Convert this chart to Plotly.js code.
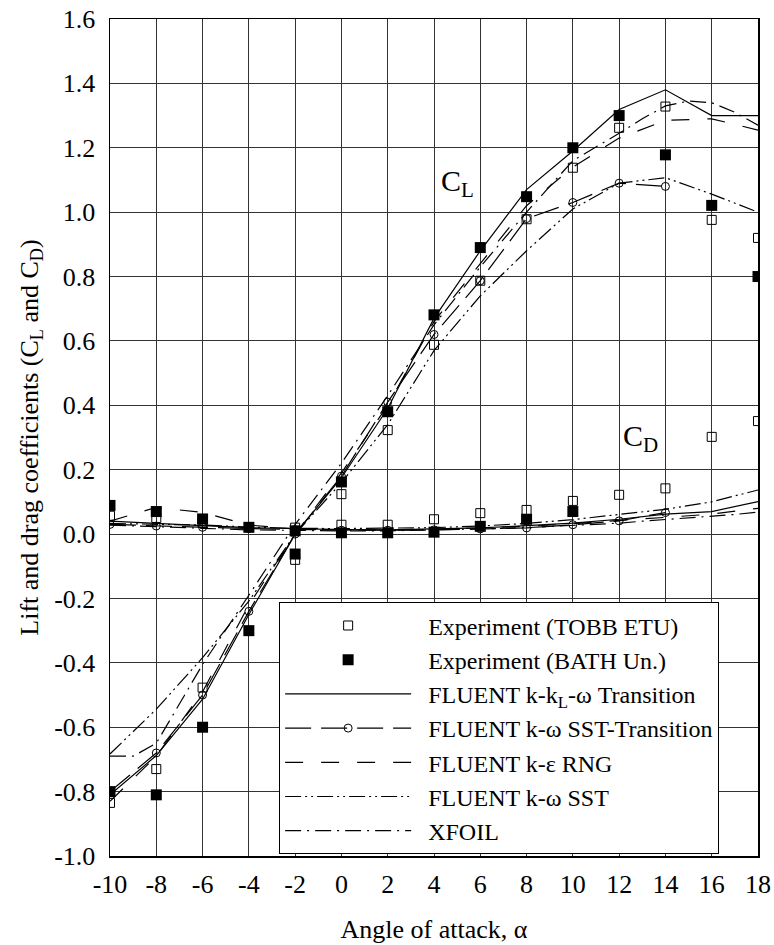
<!DOCTYPE html>
<html>
<head>
<meta charset="utf-8">
<script src="https://cdn.plot.ly/plotly-3.0.1.min.js"></script>
<style>html,body{margin:0;padding:0;background:#fff;}#chart{width:774px;height:945px;}</style>
</head>
<body>
<div id="chart"></div>
<script>
// ---- data ----
const alpha = [-10,-8,-6,-4,-2,0,2,4,6,8,10,12,14,16,18];

const tobbCL = [-0.835,-0.73,-0.477,null,-0.08,0.124,0.323,0.588,0.787,0.978,1.138,1.262,1.328,0.976,0.92];
const tobbCD = [0.057,0.05,0.035,null,0.02,0.029,0.029,0.046,0.065,0.075,0.103,0.122,0.142,0.302,0.351];

const bathCL = [-0.80,-0.81,-0.60,-0.30,-0.062,0.162,0.38,0.681,0.89,1.048,1.20,1.30,1.178,1.021,0.80];
const bathCD = [0.089,0.07,0.047,0.021,0.01,0.004,0.004,0.006,0.024,0.046,0.07,null,null,null,null];

const kklCL = [-0.81,-0.688,-0.513,-0.25,0.0,0.175,0.39,0.67,0.88,1.07,1.19,1.319,1.38,1.30,1.30];
const kklCD = [0.04,0.032,0.026,0.02,0.016,0.014,0.013,0.015,0.019,0.026,0.034,0.046,0.062,0.07,0.101];

const sstTCL = [-0.80,-0.68,-0.50,-0.24,0.0,0.18,0.41,0.62,0.787,0.98,1.03,1.09,1.08,null,null];
const sstTCD = [0.03,0.025,0.021,0.017,0.014,0.012,0.012,0.013,0.016,0.019,0.029,0.041,0.067,null,null];

const keCL = [-0.83,-0.69,-0.49,-0.22,0.0,0.19,0.40,0.66,0.84,1.02,1.14,1.23,1.285,1.29,1.255];
const keCD = [0.04,0.083,0.067,0.028,0.016,0.013,0.012,0.014,0.018,0.024,0.032,0.042,0.052,0.062,0.08];

const sstCL = [-0.683,-0.544,-0.384,-0.208,0.0,0.16,0.34,0.57,0.74,0.88,1.01,1.09,1.107,1.056,1.0];
const sstCD = [0.033,0.03,0.028,0.022,0.018,0.017,0.018,0.02,0.025,0.033,0.045,0.06,0.077,0.10,0.137];

const xfoilAlpha = [-10,-9,-8,-6,-4,-2,0,2,4,6,8,10,12,13,14,15,16,17,18];
const xfoilCL = [-0.69,-0.69,-0.65,-0.405,-0.19,0.03,0.22,0.43,0.65,0.83,1.0,1.16,1.245,1.29,1.33,1.345,1.34,1.31,1.27];
const xfoilCD = [0.028,0.026,0.022,0.018,0.013,0.011,0.01,0.01,0.012,0.016,0.02,0.026,0.034,0.04,0.045,0.05,0.055,0.061,0.068];

const xTickVals = [-10,-8,-6,-4,-2,0,2,4,6,8,10,12,14,16,18];
const xTickText = ["-10","-8","-6","-4","-2","0","2","4","6","8","10","12","14","16","18"];
const yTickVals = [-1.0,-0.8,-0.6,-0.4,-0.2,0.0,0.2,0.4,0.6,0.8,1.0,1.2,1.4,1.6];
const yTickText = ["-1.0","-0.8","-0.6","-0.4","-0.2","0.0","0.2","0.4","0.6","0.8","1.0","1.2","1.4","1.6"];

const names = ["Experiment (TOBB ETU)","Experiment (BATH Un.)","FLUENT k-k<sub>L</sub>-ω Transition",
  "FLUENT k-ω SST-Transition","FLUENT k-ε RNG","FLUENT k-ω SST","XFOIL"];

// ---- styles ----
const FONT = "'Liberation Serif', 'Times New Roman', Times, serif";
const LW = 1.2;
const traces = [];
function add(x, cl, cd, name, group, style){
  traces.push(Object.assign({x:x, y:cl, name:'\u00a0\u00a0' + name, legendgroup:group, showlegend:true, type:'scatter', connectgaps:false}, style));
  traces.push(Object.assign({x:x, y:cd, name:name, legendgroup:group, showlegend:false, type:'scatter', connectgaps:false}, style));
}
add(alpha, tobbCL, tobbCD, names[0], 'g0', {mode:'markers', marker:{symbol:'square-open', size:9, color:'black', line:{width:1, color:'black'}}});
add(alpha, bathCL, bathCD, names[1], 'g1', {mode:'markers', marker:{symbol:'square', size:11, color:'black'}});
add(alpha, kklCL, kklCD, names[2], 'g2', {mode:'lines', line:{color:'black', width:LW}});
add(alpha, sstTCL, sstTCD, names[3], 'g3', {mode:'lines+markers', line:{color:'black', width:LW, dash:'26px,10px'},
  marker:{symbol:'circle-open', size:8, color:'black', line:{width:1, color:'black'}}});
add(alpha, keCL, keCD, names[4], 'g4', {mode:'lines', line:{color:'black', width:LW, dash:'18px,18px'}});
add(alpha, sstCL, sstCD, names[5], 'g5', {mode:'lines', line:{color:'black', width:LW, dash:'16px,4px,2px,4px,2px,4px'}});
add(xfoilAlpha, xfoilCL, xfoilCD, names[6], 'g6', {mode:'lines', line:{color:'black', width:LW, dash:'16px,6px,2px,6px'}});

const layout = {
  width:774, height:945,
  margin:{l:110, r:16, t:19, b:89},
  paper_bgcolor:'white', plot_bgcolor:'white',
  font:{family:FONT, color:'black', size:26},
  showlegend:true,
  legend:{x:0.261, y:0.303, xanchor:'left', yanchor:'top', bgcolor:'white', bordercolor:'black', borderwidth:1,
    font:{family:FONT, size:24, color:'black'}, itemwidth:126, tracegroupgap:0, traceorder:'normal'},
  xaxis:{range:[-10,18], tickvals:xTickVals, ticktext:xTickText, showgrid:true, gridcolor:'#333', gridwidth:1,
    zeroline:false, showline:true, mirror:true, linecolor:'black', linewidth:1.5, ticks:'', ticklabelstandoff:4,
    tickfont:{family:FONT, size:26, color:'black'},
    title:{text:'Angle of attack, α', font:{family:FONT, size:26, color:'black'}, standoff:22}},
  yaxis:{range:[-1,1.6], tickvals:yTickVals, ticktext:yTickText, showgrid:true, gridcolor:'#333', gridwidth:1,
    zeroline:false, showline:true, mirror:true, linecolor:'black', linewidth:1.5, ticks:'', ticklabelstandoff:8,
    tickfont:{family:FONT, size:26, color:'black'},
    title:{text:'Lift and drag coefficients (C<sub>L</sub> and C<sub>D</sub>)', font:{family:FONT, size:26, color:'black'}, standoff:8}},
  annotations:[
    {x:4.2, y:1.09, xref:'x', yref:'y', text:'C<sub>L</sub>', showarrow:false, xanchor:'left', yanchor:'middle', font:{family:FONT, size:30, color:'black'}},
    {x:12.1, y:0.30, xref:'x', yref:'y', text:'C<sub>D</sub>', showarrow:false, xanchor:'left', yanchor:'middle', font:{family:FONT, size:30, color:'black'}}
  ]
};
Plotly.newPlot('chart', traces, layout, {staticPlot:true, displayModeBar:false});
</script>
</body>
</html>
